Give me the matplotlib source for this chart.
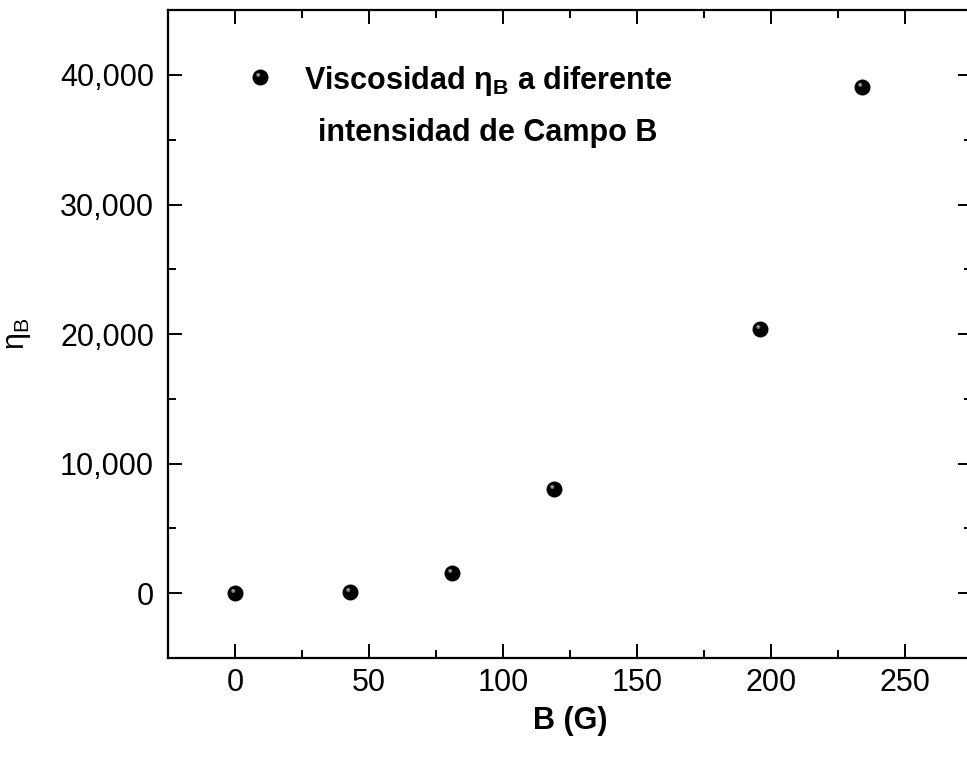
import matplotlib
matplotlib.use("Agg")
import matplotlib.pyplot as plt
from matplotlib.path import Path
from matplotlib.ticker import MultipleLocator, FuncFormatter

# campo magnetico (G) y viscosidad
campo_B = [0, 43, 81, 119, 196, 234]
eta_B = [0, 100, 1600, 8050, 20400, 39100]

x_ticks = [0, 50, 100, 150, 200, 250]
y_ticks = [0, 10000, 20000, 30000, 40000]

plt.rcParams['font.family'] = ['Liberation Sans', 'DejaVu Sans']
plt.rcParams['mathtext.default'] = 'regular'


def brillo_marker():
    # small highlight offset to upper left, inside a [-1,1] box so it stays aligned
    box = Path([(-1, -1), (1, 1)], [Path.MOVETO, Path.MOVETO])
    spot = Path.circle((-0.28, 0.32), 0.26)
    return Path.make_compound_path(box, spot)


def brillo_centro():
    box = Path([(-1, -1), (1, 1)], [Path.MOVETO, Path.MOVETO])
    spot = Path.circle((-0.3, 0.36), 0.11)
    return Path.make_compound_path(box, spot)


fig = plt.figure(figsize=(9.67, 7.64), dpi=100)
ax = fig.add_axes([0.1737, 0.1387, 0.8314, 0.848])

ms = 11.5
ax.plot(campo_B, eta_B, 'o', color='black', markersize=ms, markeredgewidth=0, zorder=3)
ax.plot(campo_B, eta_B, ls='none', marker=brillo_marker(), color='#6e6e6e',
        markersize=ms, markeredgewidth=0, zorder=4)
ax.plot(campo_B, eta_B, ls='none', marker=brillo_centro(), color='#bdbdbd',
        markersize=ms, markeredgewidth=0, zorder=5)

ax.set_xlim(-25, 275)
ax.set_ylim(-5000, 45000)
ax.set_xticks(x_ticks)
ax.set_yticks(y_ticks)
ax.xaxis.set_minor_locator(MultipleLocator(25))
ax.yaxis.set_minor_locator(MultipleLocator(5000))
ax.yaxis.set_major_formatter(FuncFormatter(lambda v, p: f"{int(v):,}"))

for s in ax.spines.values():
    s.set_linewidth(1.6)
ax.tick_params(which='both', direction='in', top=True, right=True, width=1.4)
ax.tick_params(which='major', length=10, labelsize=22)
ax.tick_params(which='minor', length=5.5)
ax.tick_params(axis='x', which='major', pad=7)
ax.tick_params(axis='y', which='major', pad=10)

ax.set_xlabel('B (G)', fontsize=22, fontweight='bold')
ax.set_ylabel(r'$\eta_B$', fontsize=22)
ax.xaxis.set_label_coords(0.5, -0.074)
ax.yaxis.set_label_coords(-0.168, 0.5)

# leyenda
lx, ly = 0.114, 0.897
ax.plot([lx], [ly], 'o', color='black', markersize=ms, markeredgewidth=0,
        transform=ax.transAxes, clip_on=False)
ax.plot([lx], [ly], ls='none', marker=brillo_marker(), color='#6e6e6e', markersize=ms,
        markeredgewidth=0, transform=ax.transAxes, clip_on=False)
ax.plot([lx], [ly], ls='none', marker=brillo_centro(), color='#bdbdbd', markersize=ms,
        markeredgewidth=0, transform=ax.transAxes, clip_on=False)
ax.text(0.398, 0.878, r'Viscosidad $\eta_B$ a diferente', fontsize=22, fontweight='bold',
        ha='center', va='baseline', transform=ax.transAxes)
ax.text(0.398, 0.798, 'intensidad de Campo B', fontsize=22, fontweight='bold',
        ha='center', va='baseline', transform=ax.transAxes)

fig.savefig('out.png', dpi=100)
